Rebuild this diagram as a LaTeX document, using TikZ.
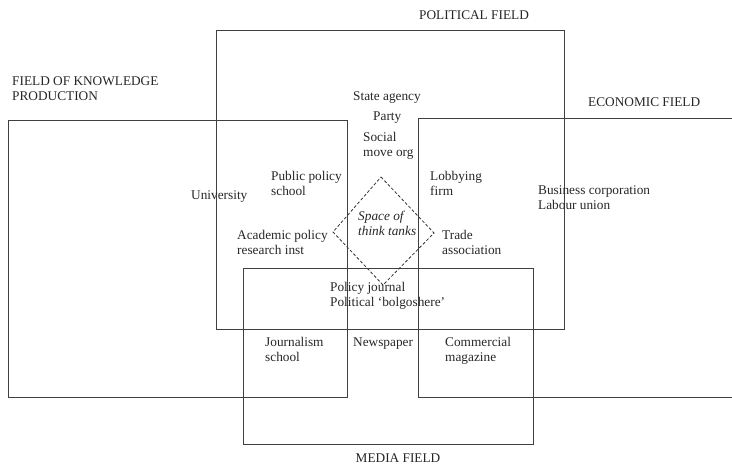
\documentclass[tikz,border=0pt]{standalone}
\usepackage{fontspec}
\setmainfont{Liberation Serif}
\usepackage{tikz}
\usetikzlibrary{positioning}

\begin{document}
\begin{tikzpicture}[x=1pt, y=-1pt,
field/.style = {draw = black!75, line width = 1pt},
space/.style = {draw = black!80, line width = 0.8pt, dash pattern = on 3pt off 2pt},
lbl/.style = {font = \fontsize{13.3}{15}\selectfont, text = black!85, align = left, inner sep = 0pt, anchor = base west}
]
\useasboundingbox (0,0) rectangle (732,465);

\draw[field] (216,31) rectangle (564,330);
\draw[field] (8.5,121) rectangle (347,398);
\draw[field] (732,119) -- (418,119) -- (418,398) -- (732,398);
\draw[field] (243.5,268.5) rectangle (533,445);

\coordinate (top) at (381,177);
\coordinate (right) at (434,233);
\coordinate (bottom) at (383,285);
\coordinate (left) at (333,232);
\draw[space] (top) -- (right) -- (bottom) -- (left) -- cycle;

\node[lbl, anchor = base] (political) at (474,20) {POLITICAL FIELD};
\node[lbl] (knowledge) at (12,101) {FIELD OF KNOWLEDGE\\PRODUCTION};
\node[lbl] (economic) at (588,107) {ECONOMIC FIELD};
\node[lbl, anchor = base] (media) at (398,462) {MEDIA FIELD};

\node[lbl] (state) at (353,101) {State agency};
\node[lbl] (party) at (373,121) {Party};
\node[lbl] (social) at (363,157) {Social\\move org};
\node[lbl] (pubschool) at (271,196) {Public policy\\school};
\node[lbl] (university) at (191,200) {University};
\node[lbl] (academic) at (237,255) {Academic policy\\research inst};
\node[lbl, font = \fontsize{13.3}{15}\selectfont\itshape] (thinktanks) at (358,236) {Space of\\think tanks};
\node[lbl] (lobbying) at (430,196) {Lobbying\\firm};
\node[lbl] (business) at (538,210) {Business corporation\\Labour union};
\node[lbl] (trade) at (442,255) {Trade\\association};
\node[lbl] (journal) at (330,307) {Policy journal\\Political `bolgoshere'};
\node[lbl] (jschool) at (265,362) {Journalism\\school};
\node[lbl] (newspaper) at (353,347) {Newspaper};
\node[lbl] (magazine) at (445,362) {Commercial\\magazine};
\end{tikzpicture}
\end{document}
